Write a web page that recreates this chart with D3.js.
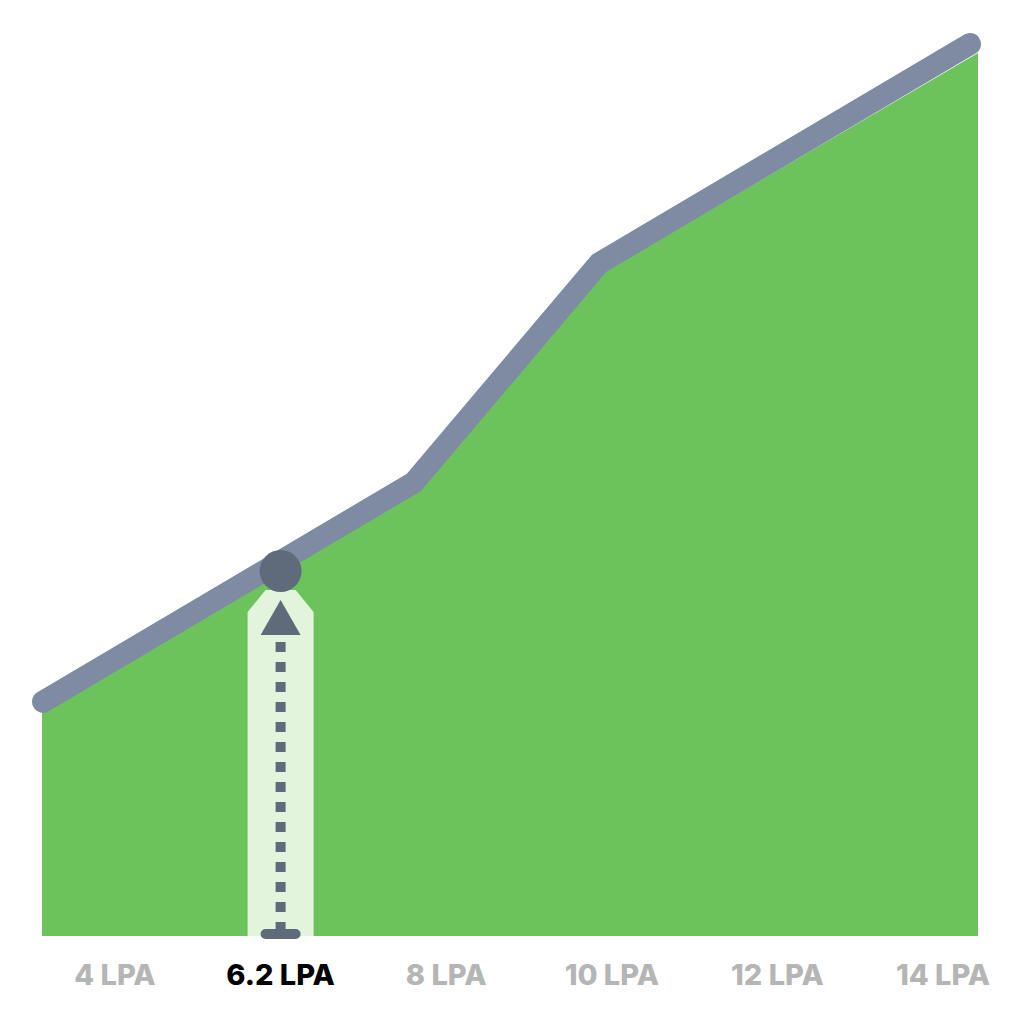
<!DOCTYPE html>
<html>
<head>
<meta charset="utf-8">
<script src="https://cdn.jsdelivr.net/npm/d3@7"></script>
<style>
  html, body { margin: 0; padding: 0; background: #fff; }
  svg { display: block; }
  .tick-label { font-family: Inter, "Open Sans", sans-serif; font-weight: 800; font-size: 29px; }
</style>
</head>
<body>
<div id="chart"></div>
<script>
// salary (LPA) vs share of offers
const salary = [4, 8, 10, 14];
const share = [25, 50, 75, 100];
const tickLabels = ['4 LPA', '6.2 LPA', '8 LPA', '10 LPA', '12 LPA', '14 LPA'];
const selected = '6.2 LPA';

const colors = {
    'area': '#6cc35b', 'line': '#7e8ba3', 'marker': '#5f6a7a',
    'band': '#e3f4dd', 'label': '#b5b5b5', 'active': '#000'}

let width = 1024, height = 1024;
let bottom = 936;

let data = salary.map((s, i) => ({x: s, y: share[i]}));

// line and area are drawn a bit apart, the stroke sits above the fill
let x = d3.scaleLinear().domain([4, 14]).range([43, 970]);
let xa = d3.scaleLinear().domain([4, 14]).range([42, 978]);
let y = d3.scaleLinear().domain([0, 100]).range([921, 44]);
const ya = v => y(v) + 9;

let xl = d3.scalePoint().domain(tickLabels).range([115, 943]);

let svg = d3.select('#chart')
    .append('svg')
    .attr('width', width)
    .attr('height', height);

let g_area = svg.append('g').attr('class', 'area'),
    g_band = svg.append('g').attr('class', 'band'),
    g_line = svg.append('g').attr('class', 'line'),
    g_mark = svg.append('g').attr('class', 'marker'),
    g_text = svg.append('g').attr('class', 'labels');

// green area
let areaGen = d3.area()
    .x(d => xa(d.x))
    .y0(bottom)
    .y1(d => ya(d.y));

g_area.append('path')
    .datum(data)
    .attr('d', areaGen)
    .attr('fill', colors.area);

// thick line
let lineGen = d3.line()
    .x(d => x(d.x))
    .y(d => y(d.y));

g_line.append('path')
    .datum(data)
    .attr('d', lineGen)
    .attr('fill', 'none')
    .attr('stroke', colors.line)
    .attr('stroke-width', 22)
    .attr('stroke-linecap', 'round')
    .attr('stroke-linejoin', 'miter');

// marker sits on the area edge under the selected label
let mx = xl(selected);
let mv = xa.invert(mx);
let seg = d3.bisector(d => d.x).right(data, mv);
let p0 = data[seg - 1], p1 = data[seg];
let mval = p0.y + (mv - p0.x) / (p1.x - p0.x) * (p1.y - p0.y);
let my = ya(mval);

// highlight band with chamfered top
let bw = 33, topY = my + 19;
g_band.append('path')
    .attr('d', `M${mx - bw},${bottom} L${mx - bw},${topY + 22} L${mx - bw + 18},${topY}
        L${mx + bw - 18},${topY} L${mx + bw},${topY + 22} L${mx + bw},${bottom} Z`)
    .attr('fill', colors.band);

// dotted stem
g_mark.append('line')
    .attr('x1', mx).attr('x2', mx)
    .attr('y1', my + 71).attr('y2', bottom - 4)
    .attr('stroke', colors.marker)
    .attr('stroke-width', 10)
    .attr('stroke-dasharray', '10 10');

// arrow head
g_mark.append('path')
    .attr('d', `M${mx},${my + 29} L${mx + 20},${my + 64} L${mx - 20},${my + 64} Z`)
    .attr('fill', colors.marker);

// foot
g_mark.append('rect')
    .attr('x', mx - 20).attr('y', bottom - 7)
    .attr('width', 40).attr('height', 10)
    .attr('rx', 5)
    .attr('fill', colors.marker);

g_mark.append('circle')
    .attr('cx', mx).attr('cy', my)
    .attr('r', 21)
    .attr('fill', colors.marker);

// x labels
g_text.selectAll('text')
    .data(tickLabels)
    .enter().append('text')
    .attr('class', 'tick-label')
    .attr('x', d => xl(d))
    .attr('y', 985)
    .attr('text-anchor', 'middle')
    .attr('fill', d => d === selected ? colors.active : colors.label)
    .text(d => d);
</script>
</body>
</html>
